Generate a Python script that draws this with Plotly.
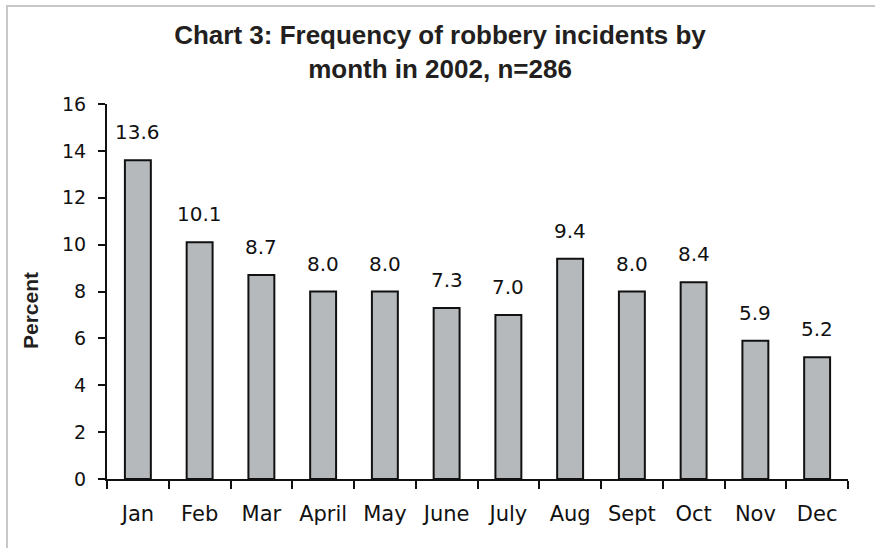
import plotly.graph_objects as go

# Share of robbery incidents by month, 2002 (n=286)
months = ["Jan", "Feb", "Mar", "April", "May", "June", "July", "Aug", "Sept", "Oct", "Nov", "Dec"]
percent = [13.6, 10.1, 8.7, 8.0, 8.0, 7.3, 7.0, 9.4, 8.0, 8.4, 5.9, 5.2]
y_ticks = [0, 2, 4, 6, 8, 10, 12, 14, 16]

W, H = 875, 548
ML, MR, MT, MB = 107, 27, 104, 69
PW, PH = W - ML - MR, H - MT - MB

fig = go.Figure()
fig.add_trace(go.Bar(
    x=months,
    y=percent,
    marker=dict(color="#b5b9bc", line=dict(color="#111111", width=2)),
    hoverinfo="x+y",
))

# Value labels above each bar
for m, v in zip(months, percent):
    fig.add_annotation(
        x=m, y=v, text=f"{v:.1f}", showarrow=False,
        yanchor="bottom", yshift=14,
        font=dict(family="DejaVu Sans", size=20, color="#111111"),
    )

# Y-axis title
fig.add_annotation(
    xref="paper", yref="paper",
    x=(30 - ML) / PW, y=(H - MB - 311) / PH,
    text="<b>Percent</b>", textangle=-90, showarrow=False,
    xanchor="center", yanchor="middle",
    font=dict(family="Liberation Sans, Arial", size=21, color="#231f20"),
)

# Frame lines along the left and top edges of the figure
def px_x(p):
    return (p - ML) / PW

def px_y(p):
    return (H - MB - p) / PH

fig.add_shape(type="line", xref="paper", yref="paper",
              x0=px_x(7), x1=px_x(7), y0=px_y(6), y1=px_y(H + 5),
              line=dict(color="#c8c8c8", width=2))
fig.add_shape(type="line", xref="paper", yref="paper",
              x0=px_x(6), x1=px_x(W + 5), y0=px_y(6), y1=px_y(6),
              line=dict(color="#c8c8c8", width=2))

fig.update_layout(
    width=W, height=H,
    margin=dict(l=ML, r=MR, t=MT, b=MB),
    paper_bgcolor="white", plot_bgcolor="white",
    showlegend=False,
    bargap=0.58,
    title=dict(
        text="<b>Chart 3: Frequency of robbery incidents by<br>month in 2002, n=286</b>",
        x=440 / W, xanchor="center", xref="container",
        y=1 - 44 / H, yanchor="top", yref="container",
        font=dict(family="Liberation Sans, Arial", size=26, color="#231f20"),
    ),
    xaxis=dict(
        range=[-0.5, 11.5],
        showline=True, linecolor="#111111", linewidth=2,
        ticks="outside", tickson="boundaries", ticklen=8, tickwidth=2, tickcolor="#111111",
        showgrid=False, zeroline=False,
        tickfont=dict(family="DejaVu Sans", size=21, color="#111111"),
        ticklabelstandoff=15,
    ),
    yaxis=dict(
        range=[0, 16], tickvals=y_ticks,
        showline=True, linecolor="#111111", linewidth=2,
        ticks="outside", ticklen=7, tickwidth=2, tickcolor="#111111",
        showgrid=False, zeroline=False,
        tickfont=dict(family="DejaVu Sans", size=19, color="#111111"),
        ticklabelstandoff=8,
    ),
)

fig.write_html("out.html")
